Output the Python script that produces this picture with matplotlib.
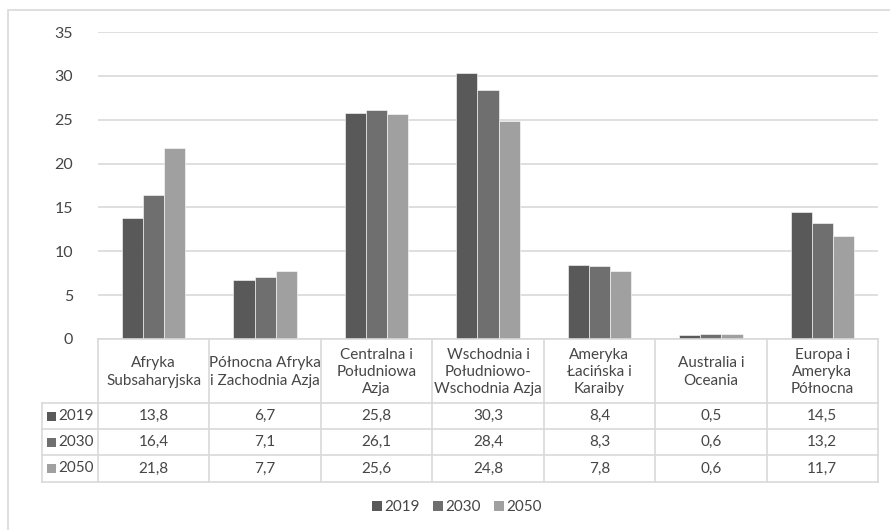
import matplotlib
matplotlib.use("Agg")
import matplotlib.pyplot as plt
import matplotlib.transforms as mtransforms
from matplotlib.lines import Line2D
from matplotlib.patches import Rectangle, Patch

plt.rcParams['font.family'] = ['Lato', 'DejaVu Sans']

categories = [
    "Afryka\nSubsaharyjska",
    "Północna Afryka\ni Zachodnia Azja",
    "Centralna i\nPołudniowa\nAzja",
    "Wschodnia i\nPołudniowo-\nWschodnia Azja",
    "Ameryka\nŁacińska i\nKaraiby",
    "Australia i\nOceania",
    "Europa i\nAmeryka\nPółnocna",
]
series_names = ["2019", "2030", "2050"]
values_2019 = [13.8, 6.7, 25.8, 30.3, 8.4, 0.5, 14.5]
values_2030 = [16.4, 7.1, 26.1, 28.4, 8.3, 0.6, 13.2]
values_2050 = [21.8, 7.7, 25.6, 24.8, 7.8, 0.6, 11.7]
y_ticks = [0, 5, 10, 15, 20, 25, 30, 35]

series = [values_2019, values_2030, values_2050]
colors = ["#595959", "#6f6f6f", "#a0a0a0"]
text_color = "#464646"
line_color = "#d9d9d9"

W, H = 890, 530
fig = plt.figure(figsize=(W / 100, H / 100), dpi=100)


def fy(py):
    return 1 - py / H


def fx(px):
    return px / W


# outer chart frame
fig.add_artist(Rectangle((fx(8), fy(600)), 1.2, fy(10) - fy(600), transform=fig.transFigure,
                         fill=False, edgecolor=line_color, linewidth=1.2))

# plot area
top_px, base_px, left_px, right_px = 32, 339, 98, 878
ax = fig.add_axes([fx(left_px), fy(base_px), (right_px - left_px) / W, (base_px - top_px) / H])
ax.set_xlim(-0.5, len(categories) - 0.5)
ax.set_ylim(0, 35)
ax.set_yticks(y_ticks)
ax.set_yticklabels([str(t) for t in y_ticks], fontsize=11.5, color=text_color)
ax.tick_params(axis='y', length=0, pad=18)
ax.set_xticks([])
for s in ax.spines.values():
    s.set_visible(False)
ax.grid(axis='y', color=line_color, linewidth=1.2)
ax.set_axisbelow(True)
ax.patch.set_alpha(0)

bw = 0.19
for i, (vals, c) in enumerate(zip(series, colors)):
    xs = [k + (i - 1) * bw for k in range(len(categories))]
    ax.bar(xs, vals, width=bw, color=c, edgecolor="#ffffff", linewidth=0.4, zorder=3)

# data table beneath the plot
blend = mtransforms.blended_transform_factory(ax.transData, fig.transFigure)
row_lines = [403, 429, 455, 482]
legend_left = 42
lw = 1.2

# horizontal rules
fig.add_artist(Line2D([fx(left_px), fx(right_px)], [fy(base_px), fy(base_px)], transform=fig.transFigure,
                      color=line_color, linewidth=lw))
for py in row_lines:
    fig.add_artist(Line2D([fx(legend_left), fx(right_px)], [fy(py), fy(py)], transform=fig.transFigure,
                          color=line_color, linewidth=lw))
# vertical rules
for k in range(len(categories) + 1):
    xk = k - 0.5
    fig.add_artist(Line2D([xk, xk], [fy(base_px), fy(row_lines[-1])], transform=blend,
                          color=line_color, linewidth=lw))
fig.add_artist(Line2D([fx(legend_left), fx(legend_left)], [fy(row_lines[0]), fy(row_lines[-1])],
                      transform=fig.transFigure, color=line_color, linewidth=lw))

# header labels
for k, cat in enumerate(categories):
    fig.text(k, fy((base_px + row_lines[0]) / 2 + 1), cat, transform=blend, ha='center', va='center',
             fontsize=11, color=text_color, linespacing=1.3)

# value rows
for r, (name, vals, c) in enumerate(zip(series_names, series, colors)):
    y_mid = fy((row_lines[r] + row_lines[r + 1]) / 2)
    fig.add_artist(Rectangle((fx(47), y_mid - 4.5 / H), 9 / W, 9 / H, transform=fig.transFigure,
                             facecolor=c, edgecolor='none'))
    fig.text(fx(58), y_mid, name, ha='left', va='center', fontsize=11, color=text_color)
    for k, v in enumerate(vals):
        fig.text(k, y_mid, f"{v:.1f}".replace('.', ','), transform=blend, ha='center', va='center',
                 fontsize=11, color=text_color)

# legend
handles = [Patch(facecolor=c, edgecolor='none', label=n) for n, c in zip(series_names, colors)]
fig.legend(handles=handles, loc='center', bbox_to_anchor=(fx(457), fy(507)), ncol=3, frameon=False,
           fontsize=11, labelcolor=text_color, handlelength=0.65, handleheight=0.65,
           handletextpad=0.15, columnspacing=0.85)

fig.savefig("out.png", dpi=100, facecolor="white")
